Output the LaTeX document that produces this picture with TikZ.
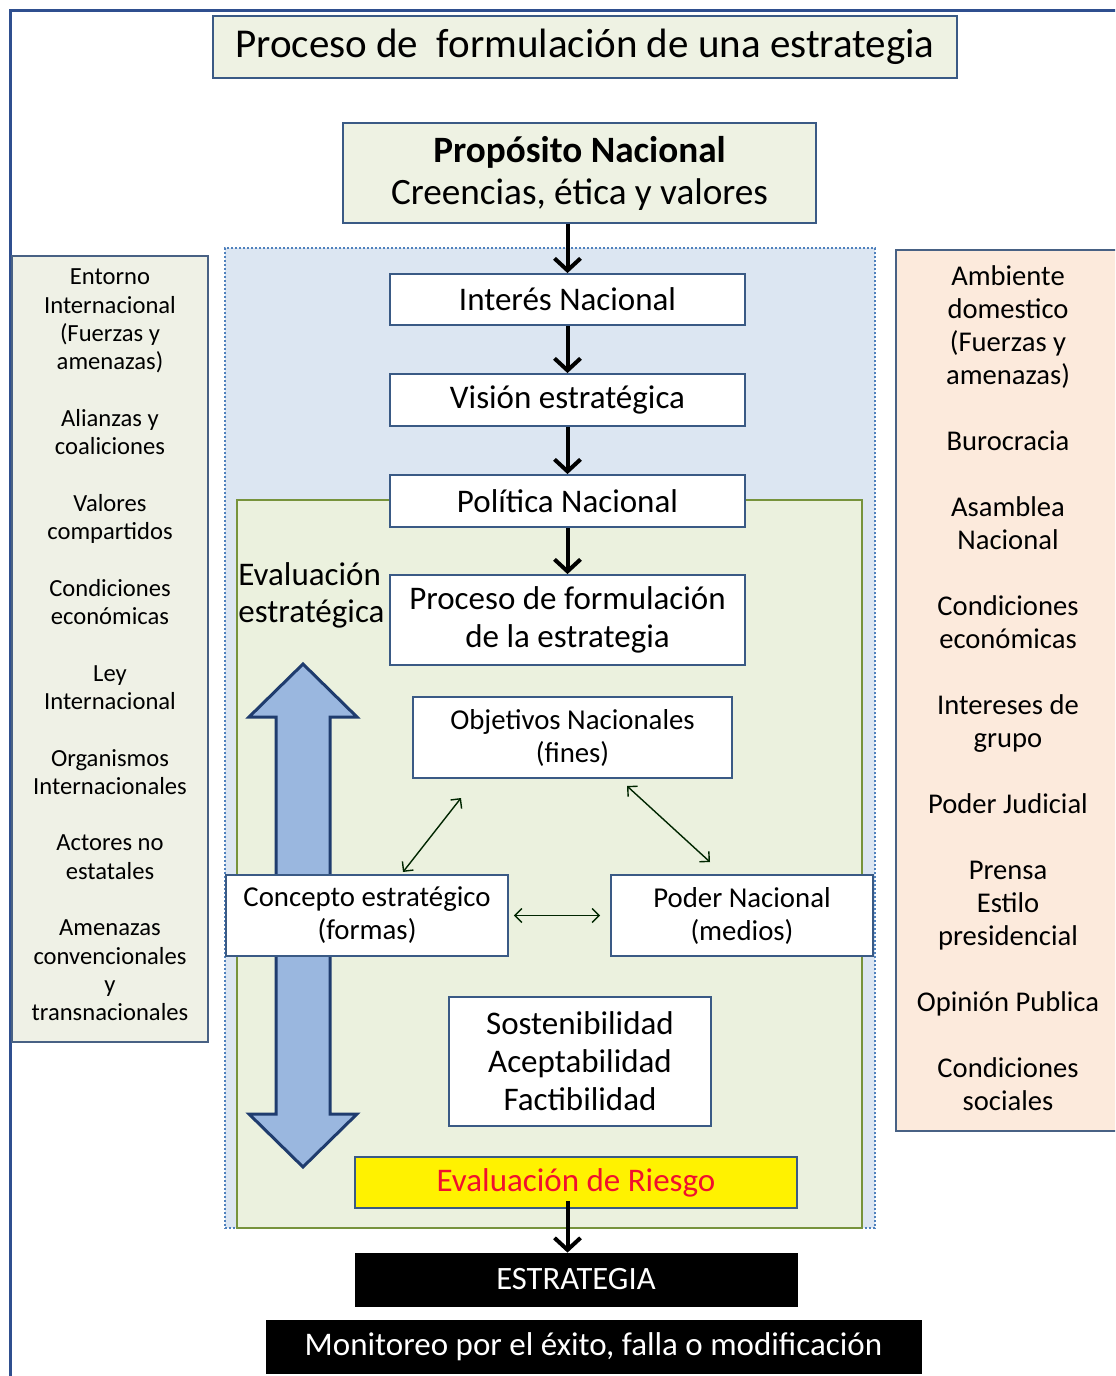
\documentclass[tikz,border=0pt]{standalone}
\usepackage{fontspec}
\setmainfont{Carlito}
\usetikzlibrary{arrows.meta}
\definecolor{framec}{HTML}{2F4F8F}
\definecolor{boxborder}{HTML}{3A5A85}
\definecolor{titlefill}{HTML}{EEF2E3}
\definecolor{leftfill}{HTML}{EFF1E6}
\definecolor{rightfill}{HTML}{FCEADC}
\definecolor{bluefill}{HTML}{DCE6F2}
\definecolor{blueline}{HTML}{4F81BD}
\definecolor{greenfill}{HTML}{EBF1DE}
\definecolor{greenline}{HTML}{77933C}
\definecolor{arrfill}{HTML}{9AB7DF}
\definecolor{arrline}{HTML}{1F3C6E}
\definecolor{riskred}{HTML}{F0102E}
\begin{document}
\begin{tikzpicture}[x=0.5pt,y=-0.5pt,
  box/.style={draw=boxborder, line width=0.9pt, fill=white, inner sep=0pt, align=center, text=black},
  panel/.style={draw=boxborder!80!gray, line width=0.9pt, inner sep=0pt},
  blackbox/.style={fill=black, draw=black, inner sep=0pt, text=white, align=center},
  bigarr/.style={draw=black, line width=2pt, -{Straight Barb[length=6pt,width=13pt]}},
  thinarr/.style={draw=black!85!green, line width=0.7pt, {Straight Barb[length=3.5pt,width=7pt]}-{Straight Barb[length=3.5pt,width=7pt]}},
  fnt/.style 2 args={font=\fontsize{#1}{#2}\selectfont}]
\useasboundingbox (0,0) rectangle (1115,1376);
\clip (0,0) rectangle (1115,1376);
\fill[white] (0,0) rectangle (1115,1376);
% outer frame
\draw[framec, line width=1.5pt] (10,1380) -- (10,10) -- (1120,10);
% title
\node[box, fill=titlefill, minimum width=372pt, minimum height=31pt, fnt={20.5}{24}] (title) at (585,47) {Proceso de\ \ formulación de una estrategia};
% proposito
\node[box, fill=titlefill, minimum width=236.5pt, minimum height=50pt, fnt={18.6}{21}] (prop) at (579.5,173) {\textbf{Propósito Nacional}\\Creencias, ética y valores};
% regions
\node[draw=blueline, fill=bluefill, line width=0.8pt, dash pattern=on 1.2pt off 0.8pt, minimum width=325pt, minimum height=490pt, inner sep=0pt] (breg) at (550,738) {};
\node[draw=greenline, fill=greenfill, line width=0.8pt, minimum width=312.5pt, minimum height=364pt, inner sep=0pt] (greg) at (549.5,864) {};
% side panels
\node[panel, fill=leftfill, minimum width=98pt, minimum height=393pt] (lpanel) at (110,649) {};
\node[panel, fill=rightfill, minimum width=111pt, minimum height=440.5pt] (rpanel) at (1007,690.5) {};
\node[align=center, fnt={12.3}{14.15}, inner sep=0pt] (ltext) at (110,645) {Entorno\\Internacional\\(Fuerzas y\\amenazas)\\[14.15pt]Alianzas y\\coaliciones\\[14.15pt]Valores\\compartidos\\[14.15pt]Condiciones\\económicas\\[14.15pt]Ley\\Internacional\\[14.15pt]Organismos\\Internacionales\\[14.15pt]Actores no\\estatales\\[14.15pt]Amenazas\\convencionales\\y\\transnacionales};
\node[align=center, fnt={14.3}{16.5}, inner sep=0pt] (rtext) at (1008,688) {Ambiente\\domestico\\(Fuerzas y\\amenazas)\\[16.5pt]Burocracia\\[16.5pt]Asamblea\\Nacional\\[16.5pt]Condiciones\\económicas\\[16.5pt]Intereses de\\grupo\\[16.5pt]Poder Judicial\\[16.5pt]Prensa\\Estilo\\presidencial\\[16.5pt]Opinión Publica\\[16.5pt]Condiciones\\sociales};
% chain boxes
\node[box, minimum width=177.5pt, minimum height=25.5pt, fnt={16.5}{19}] (interes) at (567.5,299.5) {Interés Nacional};
\node[box, minimum width=177.5pt, minimum height=26pt, fnt={16.5}{19}] (vision) at (567.5,400) {Visión estratégica};
\node[box, minimum width=177.5pt, minimum height=26pt, fnt={16.5}{19}] (politica) at (567.5,501) {Política Nacional};
\node[box, minimum width=177.5pt, minimum height=45pt, fnt={16.5}{19}] (proceso) at (567.5,620) {Proceso de formulación\\de la estrategia};
\node[align=left, anchor=north west, inner sep=0pt, fnt={16.5}{18.5}] (evalest) at (238,562) {Evaluación\\estratégica};
% big double arrow
\draw[fill=arrfill, draw=arrline, line width=1.5pt, line join=miter]
  (303,664) -- (357,717) -- (330,717) -- (330,1114) -- (357,1114) -- (303,1167)
  -- (249,1114) -- (276,1114) -- (276,717) -- (249,717) -- cycle;
% inner boxes
\node[box, minimum width=159.5pt, minimum height=40.5pt, fnt={14.4}{16.5}] (objetivos) at (572.5,737.5) {Objetivos Nacionales\\(fines)};
\node[box, minimum width=141pt, minimum height=40.5pt, fnt={14.4}{16.5}] (concepto) at (367,915.5) {Concepto estratégico\\(formas)};
\node[box, minimum width=131pt, minimum height=40.5pt, fnt={14.4}{16.5}] (poder) at (742,915.5) {Poder Nacional\\(medios)};
\node[box, minimum width=131pt, minimum height=64.5pt, fnt={16.5}{19}] (sosten) at (580,1061.5) {Sostenibilidad\\Aceptabilidad\\Factibilidad};
\node[box, fill=yellow, minimum width=221pt, minimum height=25.5pt, text=riskred, fnt={16.5}{19}] (riesgo) at (576,1182.5) {Evaluación de Riesgo};
\node[blackbox, minimum width=221pt, minimum height=26.5pt, fnt={16.3}{19}] (estrategia) at (576,1279.5) {ESTRATEGIA};
\node[blackbox, minimum width=327.5pt, minimum height=26.5pt, fnt={16.5}{19}] (monitoreo) at (593.5,1346.5) {Monitoreo por el éxito, falla o modificación};
% main arrows
\draw[bigarr] (prop.south -| interes.north) -- (interes.north);
\draw[bigarr] (interes.south) -- (vision.north);
\draw[bigarr] (vision.south) -- (politica.north);
\draw[bigarr] (politica.south) -- (proceso.north);
\draw[bigarr] ([yshift=4pt]riesgo.south -| interes.south) -- (estrategia.north -| interes.south);
% thin arrows
\coordinate (o1) at (461,798);
\coordinate (c1) at (403,872);
\coordinate (o2) at (627,786);
\coordinate (p2) at (710,862);
\draw[thinarr] (o1) -- (c1);
\draw[thinarr] (o2) -- (p2);
\draw[thinarr, shorten <=2.5pt, shorten >=5pt] (concepto.east) -- (poder.west);
\end{tikzpicture}
\end{document}
